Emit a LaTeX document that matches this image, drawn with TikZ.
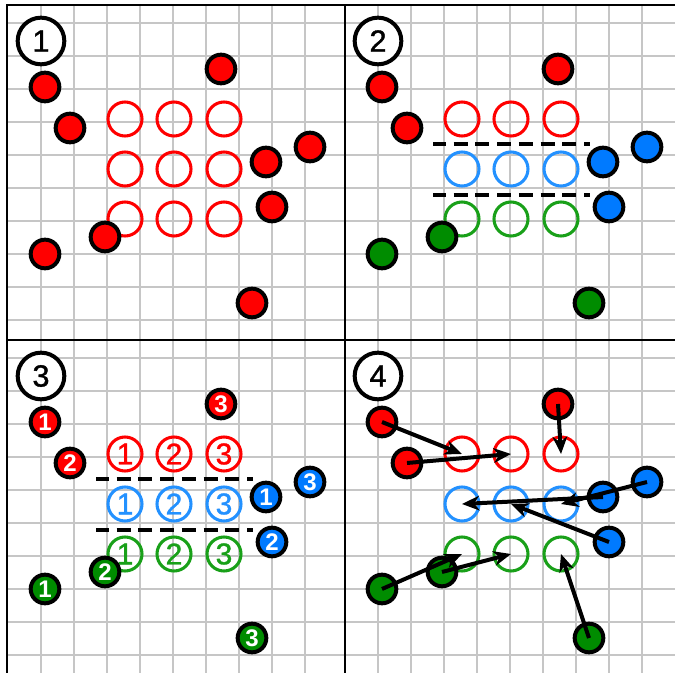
\documentclass[tikz,border=0pt]{standalone}
\usepackage{fontspec}
\setmainfont{Liberation Sans}
\newfontfamily\thickdigits[FakeBold=1.2]{Liberation Sans}
\usetikzlibrary{arrows.meta}
\definecolor{cred}{RGB}{255,0,0}
\definecolor{cblue}{RGB}{0,122,255}
\definecolor{cgreen}{RGB}{0,140,0}
\definecolor{rblue}{RGB}{35,145,255}
\definecolor{rgreen}{RGB}{25,160,25}
\definecolor{gridc}{RGB}{198,198,198}
\tikzset{
  gridline/.style={draw=gridc, line width=1.3pt},
  borderline/.style={draw=black, line width=1.5pt},
  ballstyle/.style={circle, draw=black, line width=3pt, minimum size=21.5pt, inner sep=0pt,
    font=\fontsize{18}{18}\selectfont\bfseries, text=white},
  ringstyle/.style={circle, line width=2.3pt, minimum size=25.5pt, inner sep=0pt,
    font=\thickdigits\fontsize{22.5}{24}\selectfont},
  badgestyle/.style={circle, draw=black, fill=white, line width=3pt, minimum size=35pt, inner sep=0pt,
    font=\thickdigits\fontsize{23}{24}\selectfont},
  sepline/.style={draw=black, line width=3pt, dash pattern=on 10.5pt off 5.8pt, dash phase=0.75pt},
  moveline/.style={draw=black, line width=3pt, -{Stealth[length=13pt,width=11pt,inset=4pt]}},
}
\newcommand\ringset[5]{%
  \foreach \row/\py in {1/119,2/169,3/219}{%
    \foreach \col/\px in {1/125,2/174,3/224}{%
      \ifcase\row\or\def\rc{#3}\or\def\rc{#4}\or\def\rc{#5}\fi
      \node[ringstyle, draw=\rc, text=\rc] (#1r\row\col) at (\px,\py) {\ifnum#2=1 \col\fi};
    }}}
\newcommand\ballset[5]{%
  \foreach \nm/\px/\py/\grp/\num in {a/45/87/1/1, b/70/128/1/2, c/221/69/1/3, d/266/162/2/1,
      e/310/147/2/3, f/272/207/2/2, g/45/254/3/1, h/105/237/3/2, i/252/303/3/3}{%
    \ifcase\grp\or\def\bc{#3}\or\def\bc{#4}\or\def\bc{#5}\fi
    \node[ballstyle, fill=\bc] (#1\nm) at (\px,\py) {\ifnum#2=1 \num\fi};
  }}
\newcommand\sepset[1]{%
  \coordinate (#1s1a) at (96,144);
  \coordinate (#1s1b) at (253,144);
  \coordinate (#1s2a) at (96,195);
  \coordinate (#1s2b) at (253,195);
  \draw[sepline] (#1s1a) -- (#1s1b);
  \draw[sepline] (#1s2a) -- (#1s2b);
}
\begin{document}
\begin{tikzpicture}[x=0.75pt,y=-0.75pt]
\useasboundingbox (0,0) rectangle (675,673);
\fill[white] (0,0) rectangle (675,673);
% grid
\foreach \k in {0,...,8}{
  \draw[gridline] (41+33*\k,5) -- (41+33*\k,673);
  \draw[gridline] (378+33*\k,5) -- (378+33*\k,673);
}
\foreach \k in {0,...,9}{
  \draw[gridline] (7,23+33*\k) -- (675,23+33*\k);
  \draw[gridline] (7,358+33*\k) -- (675,358+33*\k);
}
% borders
\draw[borderline] (7,673) -- (7,5) -- (675,5);
\draw[borderline] (344.5,5) -- (344.5,673);
\draw[borderline] (7,340) -- (675,340);
% panel 1
\begin{scope}
  \node[badgestyle] (p1lab) at (41,41) {1};
  \ringset{p1}{0}{cred}{cred}{cred}
  \ballset{p1}{0}{cred}{cred}{cred}
\end{scope}
% panel 2
\begin{scope}[shift={(337,0)}]
  \node[badgestyle] (p2lab) at (41,41) {2};
  \ringset{p2}{0}{cred}{rblue}{rgreen}
  \sepset{p2}
  \ballset{p2}{0}{cred}{cblue}{cgreen}
\end{scope}
% panel 3
\begin{scope}[shift={(0,335)}]
  \node[badgestyle] (p3lab) at (41,41) {3};
  \ringset{p3}{1}{cred}{rblue}{rgreen}
  \sepset{p3}
  \ballset{p3}{1}{cred}{cblue}{cgreen}
\end{scope}
% panel 4
\begin{scope}[shift={(337,335)}]
  \node[badgestyle] (p4lab) at (41,41) {4};
  \ringset{p4}{0}{cred}{rblue}{rgreen}
  \ballset{p4}{0}{cred}{cblue}{cgreen}
  \draw[moveline] (p4a.center) -- (p4r11.center);
  \draw[moveline] (p4b.center) -- (p4r12.center);
  \draw[moveline] (p4c.center) -- (p4r13.center);
  \draw[moveline] (p4e.center) -- (p4r23.center);
  \draw[moveline] (p4d.center) -- (p4r21.center);
  \draw[moveline] (p4f.center) -- (p4r22.center);
  \draw[moveline] (p4g.center) -- (p4r31.center);
  \draw[moveline] (p4h.center) -- (p4r32.center);
  \draw[moveline] (p4i.center) -- (p4r33.center);
\end{scope}
\end{tikzpicture}
\end{document}
